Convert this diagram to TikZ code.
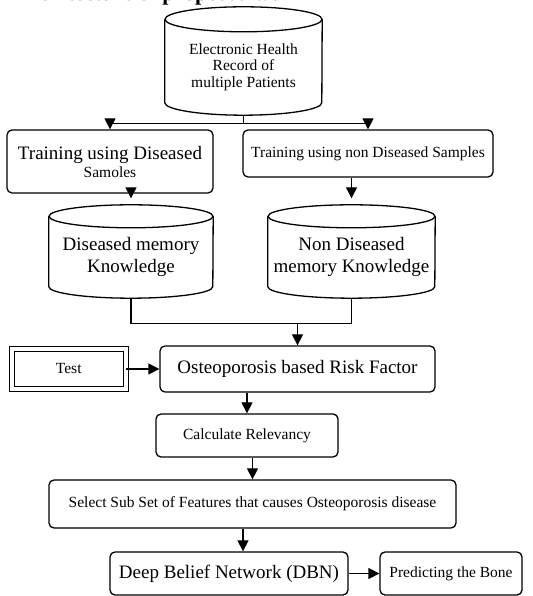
\documentclass[tikz,border=0pt]{standalone}
\usepackage{fontspec}
\setmainfont{Liberation Serif}
\usepackage{tikz}
\usetikzlibrary{positioning}
\usetikzlibrary {arrows.meta}
\tikzset{
    db/.style={rectangle,align=center,inner sep=0pt},
    dbl/.style={line width=1.3pt},
    box/.style={rectangle,rounded corners=5pt,draw,line width=1.3pt,align=center,inner sep=0pt},
    arr/.style={-{Triangle[length=11pt,width=11pt]},line width=1.3pt},
    big/.style={font=\fontsize{19}{22}\selectfont},
    sml/.style={font=\fontsize{15.5}{16.5}\selectfont},
}
\begin{document}
\begin{tikzpicture}[x=1pt,y=1pt]
    \useasboundingbox (0,0) rectangle (532,596);
    %% 标题
    \node[anchor=base west,inner sep=0pt,font=\bfseries\fontsize{22}{24}\selectfont] (ttl) at (14,595){Architecture of proposed work};
    %% 数据库
    \node[db,sml,minimum width=157,minimum height=95.5] (ehr) at (243.5,528.75){Electronic Health\\Record of\\multiple Patients};
    \node[db,big,minimum width=164,minimum height=81.5] (dmk) at (131,338.75){Diseased memory\\Knowledge};
    \node[db,big,minimum width=167,minimum height=81.5] (ndmk) at (351.5,338.75){Non Diseased\\memory Knowledge};
    % 圆柱
    \draw[dbl] (ehr.north) ellipse[x radius=78.5,y radius=12.5];
    \draw[dbl] (ehr.north west)--([yshift=12.5]ehr.south west)
    arc[start angle=180,end angle=360,x radius=78.5,y radius=12.5]--(ehr.north east);
    \draw[dbl] (dmk.north) ellipse[x radius=82,y radius=11.5];
    \draw[dbl] (dmk.north west)--([yshift=11.5]dmk.south west)
    arc[start angle=180,end angle=360,x radius=82,y radius=11.5]--(dmk.north east);
    \draw[dbl] (ndmk.north) ellipse[x radius=83.5,y radius=11.5];
    \draw[dbl] (ndmk.north west)--([yshift=11.5]ndmk.south west)
    arc[start angle=180,end angle=360,x radius=83.5,y radius=11.5]--(ndmk.north east);
    %% 训练
    \node[box,big,minimum width=206,minimum height=63] (trd) at (110,434.5)
    {Training using Diseased\\[-4pt]{\fontsize{15.5}{16}\selectfont Samoles}};
    \node[box,sml,minimum width=250,minimum height=47] (trn) at (368,442.5){Training using non Diseased Samples};
    %% 测试
    \node[draw,double,double distance=4pt,line width=1pt,sml,minimum width=113.5,minimum height=40,inner sep=0pt] (tst) at (68.75,227){Test};
    \node[box,big,minimum width=275,minimum height=46] (rf) at (297.5,227){Osteoporosis based Risk Factor};
    \node[box,sml,minimum width=182,minimum height=43] (cal) at (247,160.5){Calculate Relevancy};
    \node[box,sml,minimum width=407,minimum height=48] (sel) at (252.5,92){Select Sub Set of Features that causes Osteoporosis disease};
    \node[box,big,minimum width=238,minimum height=43] (dbn) at (229,22.5){Deep Belief Network (DBN)};
    \node[box,sml,minimum width=142,minimum height=43] (prd) at (451,22.5){Predicting the Bone};
    %% 分支点
    \coordinate[below=8 of ehr] (sp);
    \coordinate[below=25 of dmk] (mg);
    % 连线
    \draw[dbl] (ehr.south)--(sp);
    \draw[arr] (sp) -| (trd.north);
    \draw[arr] (sp) -| (trn.north);
    \draw[arr] (trd.south -| dmk.north)--([yshift=18]dmk.north);
    \draw[arr] (trn.south -| ndmk.north)--([yshift=18]ndmk.north);
    \draw[dbl] (dmk.south)--(mg) -| (ndmk.south);
    \draw[arr] (mg -| rf.north)--(rf.north);
    \draw[arr] (tst)--(rf);
    \draw[arr] (rf.south -| cal.north)--(cal.north);
    \draw[arr] (cal.south -| sel.north)--(sel.north);
    \draw[arr] ([xshift=14]dbn.north |- sel.south)--([xshift=14]dbn.north);
    \draw[arr] (dbn)--(prd);
\end{tikzpicture}
\end{document}
